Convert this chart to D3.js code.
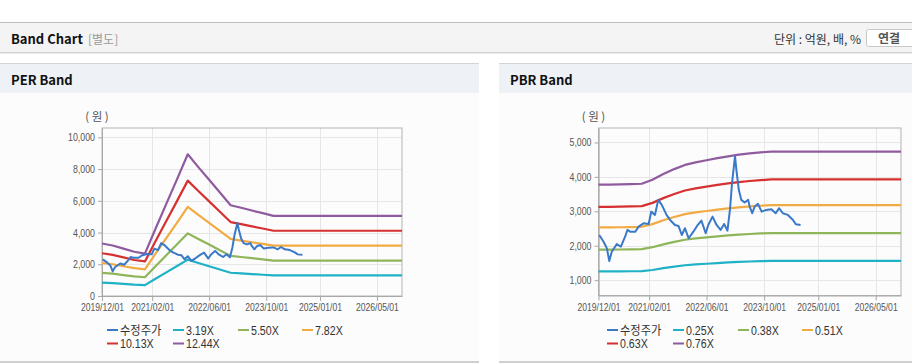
<!DOCTYPE html>
<html>
<head>
<meta charset="utf-8">
<script src="https://cdn.jsdelivr.net/npm/d3@7"></script>
<style>
  body { margin: 0; background: #fff; }
  svg { display: block; font-family: "Liberation Sans", Arial, "Noto Sans CJK KR", sans-serif; }
  .kr { font-family: "Noto Sans CJK KR", sans-serif; }
</style>
</head>
<body>
<svg id="chart" width="912" height="364"></svg>
<script>
// band dates (quarterly) shared by both charts
var bandDates = ["2019-12-01","2020-03-01","2020-06-01","2020-09-01","2020-12-01","2021-03-01","2021-06-01",
  "2021-09-01","2021-12-01","2022-03-01","2022-06-01","2022-09-01","2022-12-01","2023-03-01","2023-06-01",
  "2023-09-01","2023-12-01","2026-12-01"];

// PER band values (원)
var per319 = [849,817,766,715,686,1088,1490,1888,2290,2083,1879,1672,1467,1426,1381,1340,1295,1295];
var per550 = [1463,1408,1320,1232,1183,1876,2569,3256,3949,3592,3240,2882,2530,2459,2382,2310,2233,2233];
var per782 = [2080,2002,1877,1752,1681,2667,3652,4629,5615,5106,4606,4098,3597,3496,3386,3284,3175,3175];
var per1013 = [2695,2593,2431,2269,2178,3454,4731,5997,7273,6615,5967,5308,4660,4528,4386,4255,4113,4113];
var per1244 = [3309,3185,2986,2787,2675,4242,5809,7364,8932,8123,7327,6519,5722,5561,5387,5225,5051,5051];

// PBR band values (원)
var pbr025 = [1255,1255,1256,1258,1262,1295,1348,1392,1432,1457,1477,1497,1515,1530,1542,1552,1560,1560];
var pbr038 = [1889,1889,1891,1894,1900,1957,2041,2113,2174,2212,2242,2272,2299,2322,2341,2356,2367,2367];
var pbr051 = [2535,2535,2537,2542,2550,2627,2739,2836,2917,2968,3009,3050,3086,3116,3142,3162,3177,3177];
var pbr063 = [3131,3131,3134,3141,3150,3245,3383,3503,3604,3667,3717,3767,3812,3849,3881,3906,3925,3925];
var pbr076 = [3777,3777,3781,3789,3800,3914,4081,4226,4347,4423,4484,4545,4598,4644,4682,4712,4735,4735];

// 수정주가
var priceDates = ["2019-12-07","2020-01-13","2020-02-10","2020-03-01","2020-03-22","2020-05-04","2020-06-07",
  "2020-07-13","2020-08-01","2020-08-25","2020-10-07","2020-11-04","2020-12-16","2021-01-28","2021-02-19",
  "2021-03-22","2021-04-19","2021-05-19","2021-06-28","2021-07-28","2021-09-07","2021-10-07","2021-11-04",
  "2021-12-01","2022-01-01","2022-02-10","2022-03-13","2022-04-19","2022-05-25","2022-06-16","2022-07-22",
  "2022-08-25","2022-09-28","2022-10-28","2022-11-25","2022-12-16","2023-01-04","2023-01-28","2023-02-10",
  "2023-03-01","2023-03-22","2023-04-19","2023-05-19","2023-06-01","2023-06-22","2023-07-13","2023-08-10",
  "2023-09-10","2023-10-19","2023-12-01","2024-01-07","2024-02-04","2024-03-07","2024-04-19","2024-06-01",
  "2024-06-25","2024-08-04"];
var price = [2312,2117,1924,1554,1825,2050,1971,2262,2458,2408,2408,2554,2651,2632,2991,2895,3332,3187,2895,
  2749,2603,2574,2312,2507,2216,2408,2574,2729,2361,2603,2845,2603,2458,2632,2437,3041,3866,4595,4157,3624,
  3332,3254,3332,3137,2944,3137,3216,2991,3041,3061,2944,3090,2944,2895,2749,2624,2603];

var xTicks = ["2019-12-01","2021-02-01","2022-06-01","2023-10-01","2025-01-01","2026-05-01"];
var xDomain = ["2019-12-01","2026-12-01"];

var colors = ["#3a78c8","#1fb2c6","#8fb55a","#f2ab42","#d63030","#8f5b9e"];
var perNames = ["수정주가","3.19X","5.50X","7.82X","10.13X","12.44X"];
var pbrNames = ["수정주가","0.25X","0.38X","0.51X","0.63X","0.76X"];

var parse = d3.timeParse("%Y-%m-%d");
var svg = d3.select("#chart");

// squeeze text horizontally (reference uses a narrow gulim-like face)
function narrow(sel, k) {
  sel.each(function() {
    var L = this.getComputedTextLength();
    d3.select(this).attr("textLength", L * k).attr("lengthAdjust", "spacingAndGlyphs");
  });
}

// top header
svg.append("rect").attr("x", 0).attr("y", 22).attr("width", 912).attr("height", 1).attr("fill", "#bdbdbd");
svg.append("rect").attr("x", 0).attr("y", 23).attr("width", 912).attr("height", 29).attr("fill", "#f4f4f4");
svg.append("rect").attr("x", 0).attr("y", 52).attr("width", 912).attr("height", 1).attr("fill", "#d0d0d0");
svg.append("rect").attr("x", 0).attr("y", 53).attr("width", 912).attr("height", 1).attr("fill", "#ececec");
svg.append("text").attr("class", "kr").attr("x", 11).attr("y", 44)
  .attr("font-size", 13).attr("font-weight", "bold").attr("fill", "#111").text("Band Chart");
svg.append("text").attr("class", "kr").attr("x", 88).attr("y", 44)
  .attr("font-size", 12).attr("fill", "#999").text("[별도]");
svg.append("text").attr("class", "kr").attr("x", 861).attr("y", 44).attr("text-anchor", "end")
  .attr("font-size", 12).attr("fill", "#333").text("단위 : 억원, 배, %");
svg.append("rect").attr("x", 866.5).attr("y", 29.5).attr("width", 52).attr("height", 17).attr("rx", 2)
  .attr("fill", "#fff").attr("stroke", "#c8c8c8");
svg.append("text").attr("class", "kr").attr("x", 889).attr("y", 42.5).attr("text-anchor", "middle")
  .attr("font-size", 12).attr("font-weight", "bold").attr("fill", "#555").text("연결");

function drawPanel(x0, w, title) {
  svg.append("rect").attr("x", x0).attr("y", 63).attr("width", w).attr("height", 1).attr("fill", "#d4d4d4");
  svg.append("rect").attr("x", x0).attr("y", 64).attr("width", w).attr("height", 29).attr("fill", "#eef2f7");
  svg.append("rect").attr("x", x0).attr("y", 93).attr("width", w).attr("height", 269).attr("fill", "#fcfcfc");
  svg.append("rect").attr("x", x0).attr("y", 361).attr("width", w).attr("height", 2).attr("fill", "#cfcfcf");
  svg.append("text").attr("class", "kr").attr("x", x0 + 11).attr("y", 85)
    .attr("font-size", 13).attr("font-weight", "bold").attr("fill", "#111").text(title);
}

function drawChart(o) {
  var g = svg.append("g");
  var x = d3.scaleTime().domain(xDomain.map(parse)).range([o.left, o.right]);
  var y = d3.scaleLinear().domain(o.yDomain).range([o.bottom, o.top]);
  var tickDates = xTicks.map(parse);

  // grid
  g.selectAll(".hg").data(o.yTicks).enter().append("line")
    .attr("x1", o.left).attr("x2", o.right)
    .attr("y1", function(d) { return Math.round(y(d)) + 0.5; })
    .attr("y2", function(d) { return Math.round(y(d)) + 0.5; })
    .attr("stroke", "#e6e6e6");
  g.selectAll(".vg").data(tickDates).enter().append("line")
    .attr("y1", o.top).attr("y2", o.bottom)
    .attr("x1", function(d) { return Math.round(x(d)) + 0.5; })
    .attr("x2", function(d) { return Math.round(x(d)) + 0.5; })
    .attr("stroke", "#e6e6e6");

  // frame
  g.append("rect").attr("x", o.left).attr("y", o.top)
    .attr("width", o.right - o.left).attr("height", o.bottom - o.top)
    .attr("fill", "none").attr("stroke", "#b4b4b4");

  // axes
  var xAxis = g.append("g").attr("transform", "translate(0," + o.bottom + ")")
    .call(d3.axisBottom(x).tickValues(tickDates).tickFormat(d3.timeFormat("%Y/%m/%d")).tickSize(5).tickSizeOuter(0));
  var yAxis = g.append("g").attr("transform", "translate(" + o.left + ",0)")
    .call(d3.axisLeft(y).tickValues(o.yTicks).tickFormat(d3.format(",")).tickSize(4).tickSizeOuter(0));
  [xAxis, yAxis].forEach(function(a) {
    a.select(".domain").attr("stroke", "#a8a8a8");
    a.selectAll(".tick line").attr("stroke", "#a8a8a8");
    a.selectAll("text").attr("fill", "#555").attr("font-size", 11)
      .attr("font-family", "'Liberation Sans', Arial, sans-serif");
  });
  xAxis.selectAll("text").attr("y", 7).attr("dy", "0.75em");
  narrow(xAxis.selectAll("text"), 0.78);
  narrow(yAxis.selectAll("text"), 0.8);

  g.append("text").attr("class", "kr").attr("x", o.left - 5).attr("y", 121).attr("text-anchor", "middle")
    .attr("font-size", 11.5).attr("fill", "#555").text("( 원 )");

  // lines
  var line = d3.line()
    .x(function(d) { return x(d[0]); })
    .y(function(d) { return y(d[1]); });
  o.bands.forEach(function(vals, i) {
    var pts = bandDates.map(function(d, j) { return [parse(d), vals[j]]; });
    g.append("path").attr("d", line(pts)).attr("fill", "none")
      .attr("stroke", colors[i + 1]).attr("stroke-width", 2.2).attr("stroke-linejoin", "round");
  });
  var ppts = priceDates.map(function(d, j) { return [parse(d), price[j]]; });
  g.append("path").attr("d", line(ppts)).attr("fill", "none")
    .attr("stroke", colors[0]).attr("stroke-width", 2).attr("stroke-linejoin", "round");

  // legend
  var cols = [107, 173, 238, 302];
  var leg = g.selectAll(".leg").data(o.names).enter().append("g")
    .attr("transform", function(d, i) {
      return "translate(" + (o.x0 + cols[i % 4]) + "," + (i < 4 ? 330 : 343.5) + ")";
    });
  leg.append("line").attr("x1", 0).attr("x2", 11).attr("y1", 0).attr("y2", 0)
    .attr("stroke", function(d, i) { return colors[i]; }).attr("stroke-width", 2);
  var lt = leg.append("text").attr("x", 13).attr("y", 4.5)
    .attr("font-size", 12.5).attr("fill", "#333")
    .attr("font-family", function(d, i) { return i == 0 ? "'Noto Sans CJK KR', sans-serif" : "'Liberation Sans', Arial, sans-serif"; })
    .text(function(d) { return d; });
  narrow(lt.filter(function(d, i) { return i > 0; }), 0.85);
  narrow(lt.filter(function(d, i) { return i == 0; }), 0.9);
}

drawPanel(0, 479, "PER Band");
drawPanel(499, 413, "PBR Band");

drawChart({
  x0: 0, left: 102, right: 402, top: 128, bottom: 296,
  yDomain: [0, 10590], yTicks: [0, 2000, 4000, 6000, 8000, 10000],
  bands: [per319, per550, per782, per1013, per1244], names: perNames
});
drawChart({
  x0: 500, left: 598.5, right: 901, top: 128, bottom: 295.5,
  yDomain: [554, 5420], yTicks: [1000, 2000, 3000, 4000, 5000],
  bands: [pbr025, pbr038, pbr051, pbr063, pbr076], names: pbrNames
});
</script>
</body>
</html>
